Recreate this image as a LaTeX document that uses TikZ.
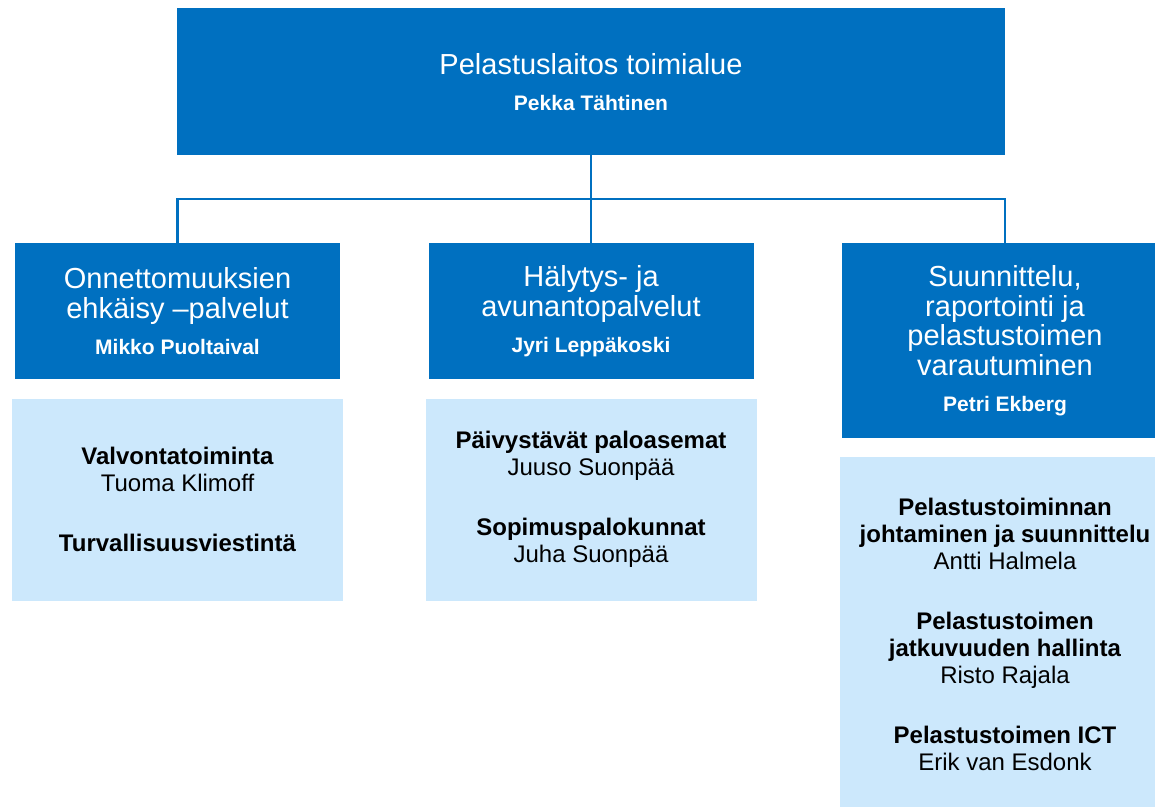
\documentclass[tikz,border=0pt]{standalone}
\usepackage{fontspec}
\setmainfont{Liberation Sans}
\usetikzlibrary{positioning}

\definecolor{unitblue}{RGB}{0,112,192}
\definecolor{teamblue}{RGB}{204,232,252}

\newcommand{\headfont}{\fontsize{29}{29.5}\selectfont\spaceskip=0.278em\relax}
\newcommand{\namefont}{\fontsize{21}{36}\selectfont\bfseries\spaceskip=0.278em\relax}
\newcommand{\teamfont}{\fontsize{24}{27}\selectfont\spaceskip=0.278em\relax}

\tikzset{
  unit/.style={fill=unitblue, text=white, inner sep=0pt, align=center,
    text width=310pt, minimum width=325pt, anchor=north},
  team/.style={fill=teamblue, text=black, inner sep=0pt, align=center,
    text width=310pt, minimum width=331pt},
  link/.style={draw=unitblue, line width=2.5pt}
}

\begin{document}
\begin{tikzpicture}[x=1pt, y=-1pt]
    % Frame of the picture
    \useasboundingbox (0,0) rectangle (1155,806);
    \clip (0,0) rectangle (1155,806);

    % 1. Top box
    \node[unit, text width=800pt, minimum width=828pt, minimum height=147pt] (top) at (591,8)
        {{\headfont Pelastuslaitos toimialue\par}{\namefont Pekka Tähtinen\par}};

    % 2. Unit boxes
    \node[unit, minimum height=136pt] (prevention) at (177.5,243)
        {{\headfont Onnettomuuksien\\ehkäisy –palvelut\par}{\namefont Mikko Puoltaival\par}};
    \node[unit, minimum height=136pt] (alarm) at (591,243)
        {{\headfont Hälytys- ja\\avunantopalvelut\par}{\namefont Jyri Leppäkoski\par}};
    \node[unit, minimum width=326pt, minimum height=195pt] (planning) at (1005,243)
        {{\headfont Suunnittelu,\\raportointi ja\\pelastustoimen\\varautuminen\par}{\namefont Petri Ekberg\par}};

    % 3. Team boxes below the units
    \node[team, minimum height=202pt, below=19pt of prevention] (preventionteam)
        {{\teamfont\textbf{Valvontatoiminta}\\Tuoma Klimoff\\[33pt]\textbf{Turvallisuusviestintä}\par}};
    \node[team, minimum height=202pt, below=19pt of alarm] (alarmteam)
        {{\teamfont\textbf{Päivystävät paloasemat}\\Juuso Suonpää\\[33pt]\textbf{Sopimuspalokunnat}\\Juha Suonpää\par}};
    \node[team, minimum width=330pt, minimum height=356pt, below=18pt of planning] (planningteam)
        {{\teamfont\textbf{Pelastustoiminnan}\\\textbf{johtaminen ja suunnittelu}\\Antti Halmela\\[33pt]%
          \textbf{Pelastustoimen}\\\textbf{jatkuvuuden hallinta}\\Risto Rajala\\[33pt]%
          \textbf{Pelastustoimen ICT}\\Erik van Esdonk\par}};

    % 4. Connectors
    \coordinate (bus) at (591,199);
    \draw[link] (top.south) -- (alarm.north);
    \draw[link] (prevention.north) |- (bus) -| (planning.north);

\end{tikzpicture}
\end{document}
